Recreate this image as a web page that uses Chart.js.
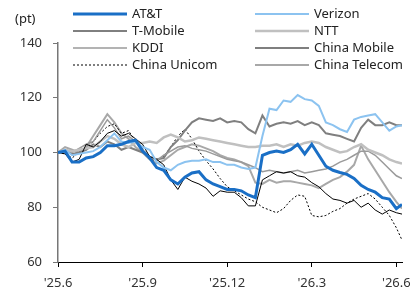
<!DOCTYPE html>
<html>
<head>
<meta charset="utf-8">
<script src="https://cdn.jsdelivr.net/npm/chart.js@4/dist/chart.umd.min.js"></script>
<style>
  body { margin: 0; background: #fff; }
  #wrap { position: relative; width: 410px; height: 289px; }
</style>
</head>
<body>
<div id="wrap"><canvas id="myChart"></canvas></div>
<script>
// months since '25.6 (x positions of the samples)
const xMonths = [0, 0.25, 0.5, 0.75, 1, 1.25, 1.5, 1.75, 2, 2.25, 2.5, 2.75,
    3, 3.25, 3.5, 3.75, 4, 4.25, 4.5, 4.75, 5, 5.25, 5.5, 5.75,
    6, 6.25, 6.5, 6.75, 7, 7.25, 7.5, 7.75, 8, 8.25, 8.5, 8.75,
    9, 9.25, 9.5, 9.75, 10, 10.25, 10.5, 10.75, 11, 11.25, 11.5, 11.75,
    12, 12.2];

const tickMonths = [0, 3, 6, 9, 12];
const tickLabels = ["'25.6", "'25.9", "'25.12", "'26.3", "'26.6"];

const att = [100, 100.5, 96.5, 96.5, 98, 98.5, 100, 102.5, 102.5, 103, 104, 104.5,
    100.5, 98, 94.5, 93.5, 90, 88.5, 91, 92.5, 93, 90, 88.5, 87.5,
    86.5, 86.5, 86, 84.5, 83.5, 99, 100, 100.5, 100, 101, 103, 99.5,
    103, 99, 95, 93.5, 92.7, 92, 90.5, 88, 86.5, 85.5, 83.5, 83,
    79.5, 81];
const verizon = [100, 101, 99, 99.5, 100, 100.5, 102, 104.5, 107, 104, 103.5, 104,
    102, 101, 96.5, 94.5, 93.5, 95.5, 96.5, 97, 97, 97.5, 96.5, 96.5,
    95.5, 95.5, 94.5, 94, 94.5, 106, 116, 115.5, 119, 118.5, 121, 119.5,
    119, 117, 111, 110, 108.5, 107.5, 112, 113, 113.5, 114, 111, 108,
    109.5, 110];
const tmobile = [100, 99.5, 96.5, 97.5, 103, 102, 104, 107, 108, 106, 107, 105,
    103, 98.5, 97.5, 95.5, 90, 86.5, 91, 89.5, 88.5, 87, 84, 86,
    85.5, 85.5, 83.5, 80.5, 80.5, 90, 91.5, 93, 92.5, 93, 91.5, 91,
    89, 87.5, 85, 83, 82.5, 81.5, 82.5, 80, 81.5, 79, 77.5, 79,
    78, 77.5];
const ntt = [100, 101, 100.5, 101, 101.5, 102, 104, 106, 105, 103, 102, 103.5,
    103.5, 104, 103.5, 105.5, 106.5, 105.5, 104, 104.5, 105.5, 105, 104.5, 104,
    103.5, 103, 102.5, 102, 102, 102.5, 102.5, 103, 102, 103, 102.5, 103.5,
    104, 103.5, 102, 101, 100, 100.5, 102, 103, 101, 100, 99, 97.5,
    96.5, 96];
const kddi = [100, 101, 100, 101.5, 103, 104, 108, 112, 109, 105, 106, 104,
    101, 98.5, 97, 99, 100.5, 102, 102.5, 101.5, 101, 100.5, 99.5, 98.5,
    97.5, 97, 96.5, 95.5, 94.5, 93, 93.5, 93, 92.5, 93, 93.5, 92.5,
    93, 93.5, 94, 95, 96.5, 97.5, 99, 100.5, 100.5, 99, 96.5, 94,
    91.5, 90.5];
const chinaMobile = [100, 101, 99.5, 100, 101, 103, 102, 104, 103, 101, 102, 101,
    100, 98.5, 97.5, 98, 102, 104.5, 108, 111, 112.5, 112, 111.5, 112.5,
    111, 111.5, 111, 108.5, 107, 113.5, 109.5, 110.5, 111, 110.5, 111.5, 110,
    111, 110, 107, 106.5, 106, 105, 104, 109, 112, 110, 110, 111,
    110, 110];
const chinaUnicom = [100, 99.5, 98, 100, 101.5, 104, 107, 109.5, 110.5, 107, 108, 104,
    101.5, 97.5, 97, 98.5, 102, 106, 108.5, 105, 100.5, 97, 94, 90.5,
    87.5, 86, 84.5, 83, 82, 80, 79, 78, 79.5, 82.5, 84.5, 84,
    77, 76.5, 77, 78.5, 79.5, 81.5, 83, 84, 85, 83, 80, 77,
    72.5, 68];
const chinaTelecom = [100, 102, 101, 100, 102, 106, 110, 114, 111, 107, 105, 102,
    100, 97.5, 96, 97, 99, 101, 102, 103, 102.5, 101.5, 100.5, 99,
    98, 97.5, 96.5, 95, 89, 88.5, 90, 89, 89.5, 89.5, 89, 88.5,
    88, 87, 88.5, 90, 91, 93, 95.5, 102.5, 97.5, 93.5, 89.5, 85.5,
    82, 79.5];

const pts = (arr) => arr.map((v, i) => ({x: xMonths[i], y: v}));

const legendPlugin = {
    id: 'twoColLegend',
    afterDraw(chart) {
        const c = chart.ctx;
        c.save();
        c.font = '13px "Noto Sans", sans-serif';
        c.fillStyle = '#222';
        c.textBaseline = 'middle';
        c.fillText('(pt)', 15, 19);
        chart.data.datasets.forEach((ds, i) => {
            const col = i % 2, row = Math.floor(i / 2);
            const x0 = col === 0 ? 73 : 255;
            const y = 14 + row * 17;
            c.beginPath();
            c.strokeStyle = ds.borderColor;
            c.lineWidth = ds.borderWidth;
            c.setLineDash(ds.borderDash || []);
            c.moveTo(x0, y);
            c.lineTo(x0 + 54, y);
            c.stroke();
            c.setLineDash([]);
            c.fillStyle = '#222';
            c.fillText(ds.label, x0 + 59, y);
        });
        c.restore();
    }
};

const ctx = document.getElementById('myChart');

new Chart(ctx, {
    type: 'line',
    data: {
        datasets: [
            {label: 'AT&T', data: pts(att), borderColor: '#1a6fc6', borderWidth: 3},
            {label: 'Verizon', data: pts(verizon), borderColor: '#8cc3f0', borderWidth: 2},
            {label: 'T-Mobile', data: pts(tmobile), borderColor: '#000000', borderWidth: 1},
            {label: 'NTT', data: pts(ntt), borderColor: '#c0c0c0', borderWidth: 2.5},
            {label: 'KDDI', data: pts(kddi), borderColor: '#9a9a9a', borderWidth: 1.5},
            {label: 'China Mobile', data: pts(chinaMobile), borderColor: '#7f7f7f', borderWidth: 2},
            {label: 'China Unicom', data: pts(chinaUnicom), borderColor: '#000000', borderWidth: 1, borderDash: [2, 2]},
            {label: 'China Telecom', data: pts(chinaTelecom), borderColor: '#a8a8a8', borderWidth: 2}
        ]
    },
    options: {
        responsive: true,
        maintainAspectRatio: false,
        animation: false,
        layout: {padding: {top: 43, right: 8, left: 0, bottom: 0}},
        elements: {point: {radius: 0}, line: {tension: 0}},
        plugins: {legend: {display: false}, tooltip: {enabled: false}},
        scales: {
            x: {
                type: 'linear',
                min: 0,
                max: 12.2,
                afterBuildTicks: (s) => { s.ticks = tickMonths.map(v => ({value: v})); },
                afterFit: (s) => { s.height = 27; s.paddingLeft = 0; s.paddingRight = 0; },
                ticks: {
                    callback: (v) => tickLabels[tickMonths.indexOf(v)],
                    maxRotation: 0,
                    padding: 8,
                    color: '#333',
                    font: {family: '"Noto Sans", sans-serif', size: 13}
                },
                grid: {drawOnChartArea: false, drawTicks: true, tickLength: 5, color: '#000'},
                border: {color: '#000', width: 1}
            },
            y: {
                min: 60,
                max: 140,
                afterFit: (s) => { s.width = 58; },
                ticks: {
                    stepSize: 20,
                    padding: 11,
                    color: '#333',
                    font: {family: '"Noto Sans", sans-serif', size: 13}
                },
                grid: {drawOnChartArea: false, drawTicks: true, tickLength: 5, color: '#777'},
                border: {color: '#777', width: 1.5}
            }
        }
    },
    plugins: [legendPlugin]
});
</script>
</body>
</html>
